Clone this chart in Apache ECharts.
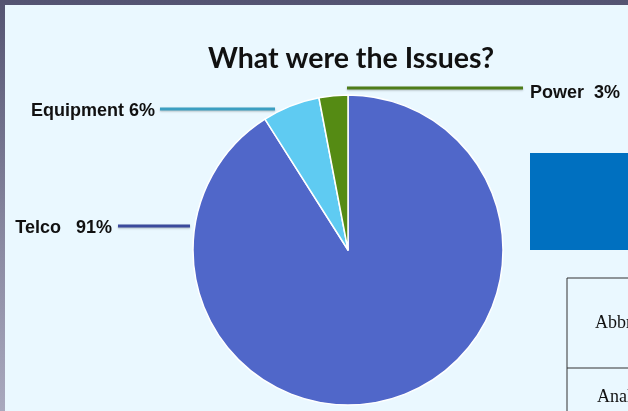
<!DOCTYPE html>
<html>
<head>
<meta charset="utf-8">
<script src="https://cdn.jsdelivr.net/npm/echarts@6/dist/echarts.min.js"></script>
<style>
  html, body {
    margin: 0;
    padding: 0;
    width: 628px;
    height: 411px;
    overflow: hidden;
    background: linear-gradient(180deg, #545472 0%, #8a8aa2 60%, #a9a9be 100%);
  }
  #chart {
    position: absolute;
    left: 5px;
    top: 5px;
    width: 623px;
    height: 406px;
    background: #eaf8ff;
  }
</style>
</head>
<body>
<div id="chart"></div>
<script>
// data
const categories = ["Telco", "Equipment", "Power"];
const shares = [91, 6, 3];
const labelTexts = ["Telco   91%", "Equipment 6%", "Power  3%"];
const sliceColors = ["#5067c9", "#5fcbf2", "#558b14"];
const lineColors = ["#3b4a9c", "#3b9fc2", "#4e7d1a"];

// label spots (chart coords, chart is offset 5px from the page)
const labelSpots = [
  { x: 107, y: 223, align: "right", line: [[113, 221], [150, 221], [185, 221]] },
  { x: 150, y: 106, align: "right", line: [[155, 104], [210, 104], [270, 104]] },
  { x: 525, y: 88, align: "left", line: [[342, 83], [430, 83], [518, 83]] }
];

const chart = echarts.init(document.getElementById("chart"));
const option = {
  animation: false,
  title: {
    text: "What were the Issues?",
    left: 203,
    top: 39,
    padding: 0,
    textStyle: {
      fontFamily: "Lato",
      fontWeight: "bold",
      fontSize: 28.5,
      color: "#111"
    }
  },
  series: [
    {
      type: "pie",
      center: [343, 245],
      radius: 155,
      startAngle: 90,
      clockwise: true,
      itemStyle: {
        borderColor: "#ffffff",
        borderWidth: 1.5
      },
      label: {
        show: true,
        fontFamily: "Liberation Sans",
        fontWeight: "bold",
        fontSize: 18,
        color: "#111",
        formatter: p => labelTexts[p.dataIndex]
      },
      labelLine: {
        show: true,
        lineStyle: { width: 3 }
      },
      labelLayout: params => {
        const s = labelSpots[params.dataIndex];
        return {
          x: s.x,
          y: s.y,
          align: s.align,
          verticalAlign: "middle",
          labelLinePoints: s.line
        };
      },
      data: categories.map((name, i) => ({
        name: name,
        value: shares[i],
        itemStyle: { color: sliceColors[i] },
        labelLine: {
          lineStyle: {
            color: lineColors[i],
            shadowColor: "rgba(0,0,0,0.25)",
            shadowBlur: 2,
            shadowOffsetY: 1
          }
        }
      }))
    }
  ],
  graphic: [
    {
      type: "rect",
      shape: { x: 525, y: 148, width: 100, height: 97 },
      style: { fill: "#0070c0" }
    },
    {
      type: "polyline",
      shape: { points: [[562, 410], [562, 273], [625, 273]] },
      style: { stroke: "#333", lineWidth: 1, fill: null }
    },
    {
      type: "line",
      shape: { x1: 562, y1: 363, x2: 625, y2: 363 },
      style: { stroke: "#333", lineWidth: 1 }
    },
    {
      type: "text",
      x: 590,
      y: 318,
      style: {
        text: "Abbreviation",
        font: "18px 'Liberation Serif'",
        fill: "#111",
        verticalAlign: "middle"
      }
    },
    {
      type: "text",
      x: 592,
      y: 392,
      style: {
        text: "Analysis",
        font: "18px 'Liberation Serif'",
        fill: "#111",
        verticalAlign: "middle"
      }
    }
  ]
};
chart.setOption(option);
</script>
</body>
</html>
